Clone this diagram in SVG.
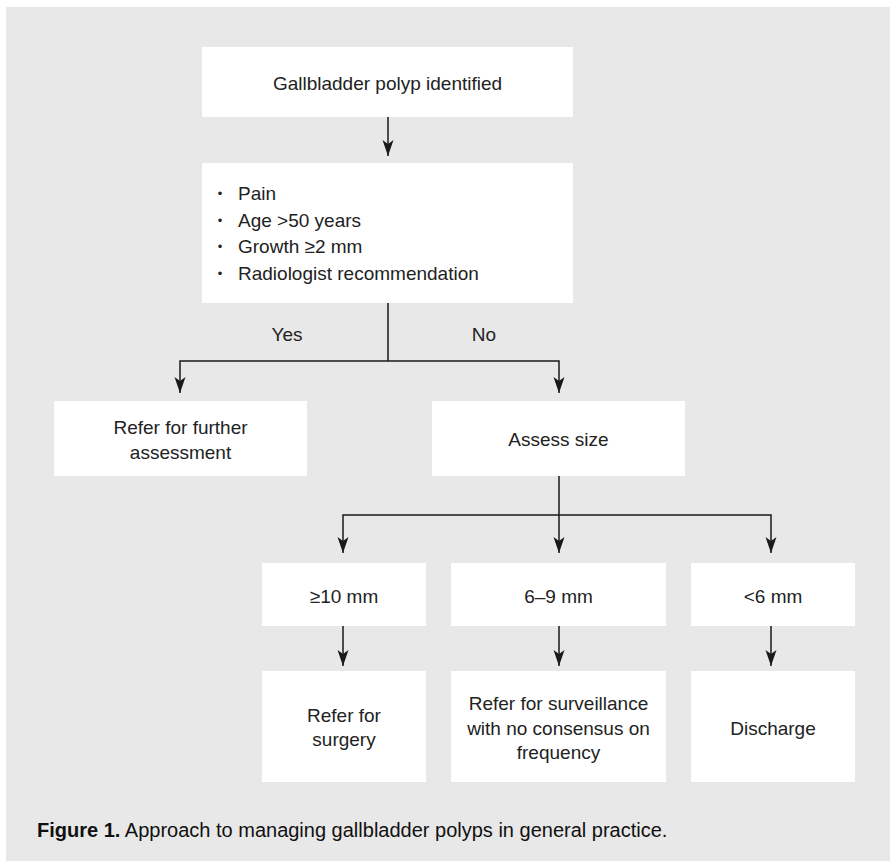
<svg xmlns="http://www.w3.org/2000/svg" width="890" height="861" viewBox="0 0 890 861">
  <defs>
    <marker id="arrow" markerUnits="userSpaceOnUse" viewBox="0 -6 16 12" markerWidth="16" markerHeight="12" refX="16" refY="0" orient="auto">
      <path d="M0,-5.5 L16,0 L0,5.5 L4,0 Z" fill="#1a1a1a"/>
    </marker>
    <style>
      .box { fill: #ffffff; }
      .t { font-family: "Liberation Sans", Arial, sans-serif; font-size: 19px; fill: #222222; }
      .c { text-anchor: middle; }
      .bul { font-family: "Liberation Sans", Arial, sans-serif; font-size: 13px; fill: #222222; text-anchor: middle; }
      .ln { fill: none; stroke: #1a1a1a; stroke-width: 1.5; }
      .ar { marker-end: url(#arrow); }
      .cap { font-family: "Liberation Sans", Arial, sans-serif; font-size: 20px; fill: #111111; }
    </style>
  </defs>

  <rect x="6" y="7" width="884" height="854" fill="#e8e8e8"/>

  <g id="connectors">
    <line class="ln ar" x1="388" y1="117" x2="388" y2="156"/>
    <line class="ln" x1="388" y1="303" x2="388" y2="361"/>
    <polyline class="ln ar" points="388,361 180,361 180,393"/>
    <polyline class="ln ar" points="388,361 559,361 559,393"/>
    <line class="ln ar" x1="559" y1="476" x2="559" y2="553"/>
    <polyline class="ln ar" points="559,515 343,515 343,553"/>
    <polyline class="ln ar" points="559,515 771,515 771,553"/>
    <line class="ln ar" x1="343" y1="626" x2="343" y2="666"/>
    <line class="ln ar" x1="559" y1="626" x2="559" y2="666"/>
    <line class="ln ar" x1="771" y1="626" x2="771" y2="666"/>
    <text class="t c" x="287" y="341">Yes</text>
    <text class="t c" x="484" y="341">No</text>
  </g>

  <g id="node-identified">
    <rect class="box" x="202" y="47" width="371" height="70"/>
    <text class="t c" x="387.5" y="90">Gallbladder polyp identified</text>
  </g>

  <g id="node-criteria">
    <rect class="box" x="202" y="163" width="371" height="140"/>
    <text class="bul" x="220" y="198">•</text>
    <text class="t" x="238" y="200">Pain</text>
    <text class="bul" x="220" y="225">•</text>
    <text class="t" x="238" y="227">Age &gt;50 years</text>
    <text class="bul" x="220" y="251">•</text>
    <text class="t" x="238" y="253">Growth ≥2 mm</text>
    <text class="bul" x="220" y="278">•</text>
    <text class="t" x="238" y="280">Radiologist recommendation</text>
  </g>

  <g id="node-refer-further">
    <rect class="box" x="54" y="401" width="253" height="75"/>
    <text class="t c" x="180.5" y="434">Refer for further</text>
    <text class="t c" x="180.5" y="459">assessment</text>
  </g>

  <g id="node-assess-size">
    <rect class="box" x="432" y="401" width="253" height="75"/>
    <text class="t c" x="558.5" y="446">Assess size</text>
  </g>

  <g id="node-ge10">
    <rect class="box" x="262" y="563" width="164" height="63"/>
    <text class="t c" x="344" y="603">≥10 mm</text>
  </g>

  <g id="node-6-9">
    <rect class="box" x="451" y="563" width="215" height="63"/>
    <text class="t c" x="558.5" y="603">6–9 mm</text>
  </g>

  <g id="node-lt6">
    <rect class="box" x="691" y="563" width="164" height="63"/>
    <text class="t c" x="773" y="603">&lt;6 mm</text>
  </g>

  <g id="node-surgery">
    <rect class="box" x="262" y="671" width="164" height="111"/>
    <text class="t c" x="344" y="722">Refer for</text>
    <text class="t c" x="344" y="746">surgery</text>
  </g>

  <g id="node-surveillance">
    <rect class="box" x="451" y="671" width="215" height="111"/>
    <text class="t c" x="558.5" y="710">Refer for surveillance</text>
    <text class="t c" x="558.5" y="735">with no consensus on</text>
    <text class="t c" x="558.5" y="759">frequency</text>
  </g>

  <g id="node-discharge">
    <rect class="box" x="691" y="671" width="164" height="111"/>
    <text class="t c" x="773" y="735">Discharge</text>
  </g>

  <text class="cap" x="37" y="837"><tspan font-weight="bold">Figure 1.</tspan> Approach to managing gallbladder polyps in general practice.</text>
</svg>
